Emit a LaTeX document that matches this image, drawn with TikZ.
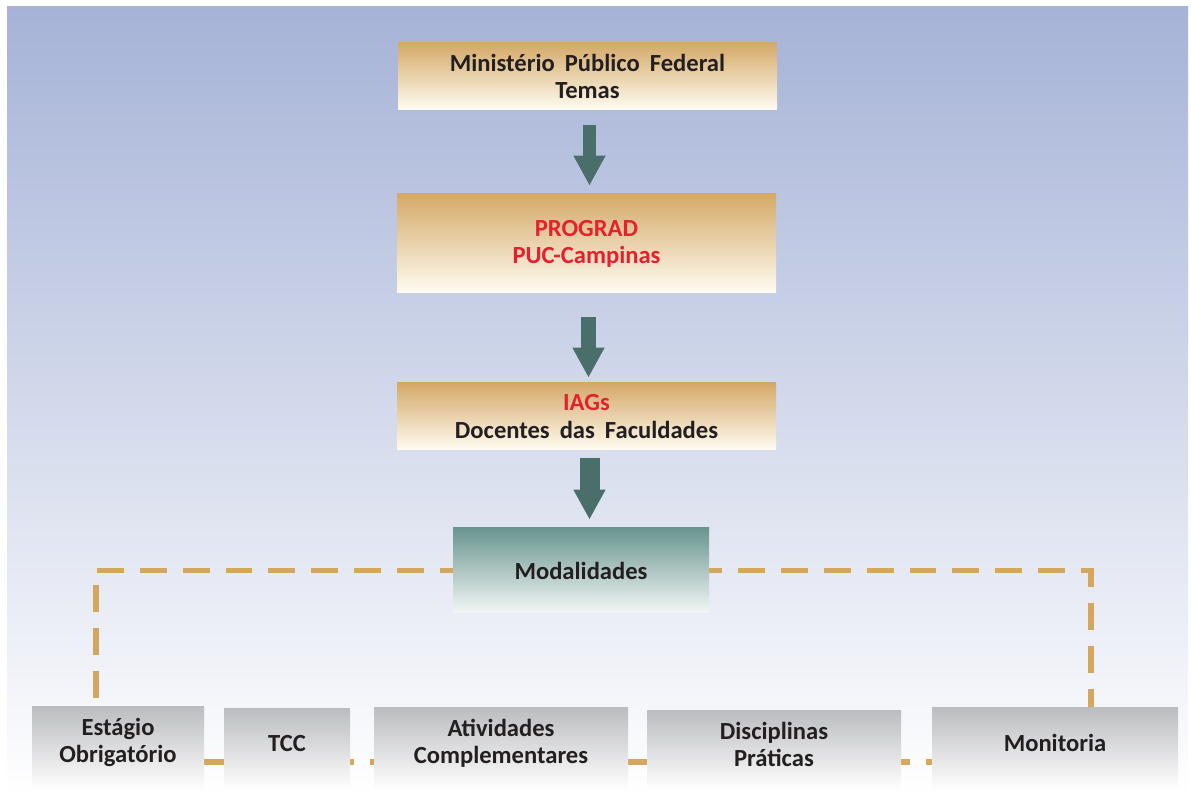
\documentclass[tikz,border=0pt]{standalone}
\usepackage{fontspec}
\setmainfont{Carlito}[WordSpace=1.8]
\usepackage{tikz}
\usetikzlibrary{arrows.meta}
\definecolor{bgtop}{RGB}{166,179,215}
\definecolor{bgmid}{RGB}{204,211,232}
\definecolor{tantop}{RGB}{212,169,104}
\definecolor{tanbot}{RGB}{255,252,242}
\definecolor{tealtop}{RGB}{106,149,144}
\definecolor{tealbot}{RGB}{242,247,245}
\definecolor{graytop}{RGB}{188,189,192}
\definecolor{graymid}{RGB}{216,217,219}
\definecolor{arrteal}{RGB}{74,111,107}
\definecolor{dashtan}{RGB}{212,166,94}
\definecolor{txtred}{RGB}{230,32,44}
\definecolor{txtdark}{RGB}{35,31,32}
\pgfdeclarelayer{bglayer}
\pgfdeclarelayer{edgelayer}
\pgfsetlayers{bglayer,edgelayer,main}
\tikzset{
  topbox/.style={top color=tantop,bottom color=tanbot,minimum width=189.5pt,align=center,inner sep=0pt},
  modbox/.style={top color=tealtop,bottom color=tealbot,minimum width=128pt,minimum height=42.5pt},
  basebox/.style={top color=graytop,middle color=graymid,bottom color=white,inner sep=0pt,
    label={[align=center,yshift=3pt]center:#1}},
  bigarrow/.style={color=arrteal,-{Triangle[width=15pt,length=15pt]}},
  dashline/.style={draw=dashtan,line width=2.6pt,dash pattern=on 13.4pt off 8pt}
}

\begin{document}
\begin{tikzpicture}[x=0.5pt,y=-0.5pt,font=\fontsize{12.3}{13.6}\selectfont\bfseries,text=txtdark]
\useasboundingbox (0,0) rectangle (1191,802);
\begin{pgfonlayer}{bglayer}
\shade[top color=bgtop,middle color=bgmid,bottom color=white] (7,7) rectangle (1188,796);
\end{pgfonlayer}
\node[topbox,minimum height=33.5pt] (MPF) at (587.5,76.5) {Ministério Público Federal\\Temas};
\node[topbox,minimum height=49.5pt,text=txtred] (PG) at (586.5,243.5) {PROGRAD\\PUC-Campinas};
\node[topbox,minimum height=33.5pt] (IAG) at (586.5,416.5) {\textcolor{txtred}{IAGs}\\Docentes das Faculdades};
\node[modbox] (M) at (581,570.5) {Modalidades};
\node[basebox={Estágio\\Obrigatório},minimum width=86pt,minimum height=41.5pt] (E) at (118,748.5) {};
\node[basebox=TCC,minimum width=63pt,minimum height=40.5pt] (T) at (287,749.5) {};
\node[basebox={Atividades\\Complementares},minimum width=127pt,minimum height=41pt] (AC) at (501,749) {};
\node[basebox={Disciplinas\\Práticas},minimum width=127pt,minimum height=39.5pt] (DP) at (774,750.5) {};
\node[basebox=Monitoria,minimum width=123pt,minimum height=41pt] (Mo) at (1055,749) {};
\path[bigarrow]
([xshift=1pt]MPF.south) edge[line width=6.5pt,shorten <=7.5pt,shorten >=4pt] ([xshift=1pt]MPF.south |- PG.north)
([xshift=1pt]PG.south) edge[line width=7.5pt,shorten <=12pt,shorten >=2.5pt] ([xshift=1pt]PG.south |- IAG.north)
([xshift=1.5pt]IAG.south) edge[line width=10pt,shorten <=4pt,shorten >=4pt] ([xshift=1.5pt]IAG.south |- M.north);
\begin{pgfonlayer}{edgelayer}
\draw[dashline,dash phase=6.9pt] (M.west) -| ([xshift=-11pt]E.north);
\draw[dashline,dash phase=6.9pt] (M.east) -| ([xshift=18pt]Mo.north);
\draw[dashline,dash phase=3pt] ([yshift=-6.75pt]E.east) -- ([yshift=-6.75pt]E.east -| Mo.west);
\end{pgfonlayer}
\end{tikzpicture}
\end{document}
